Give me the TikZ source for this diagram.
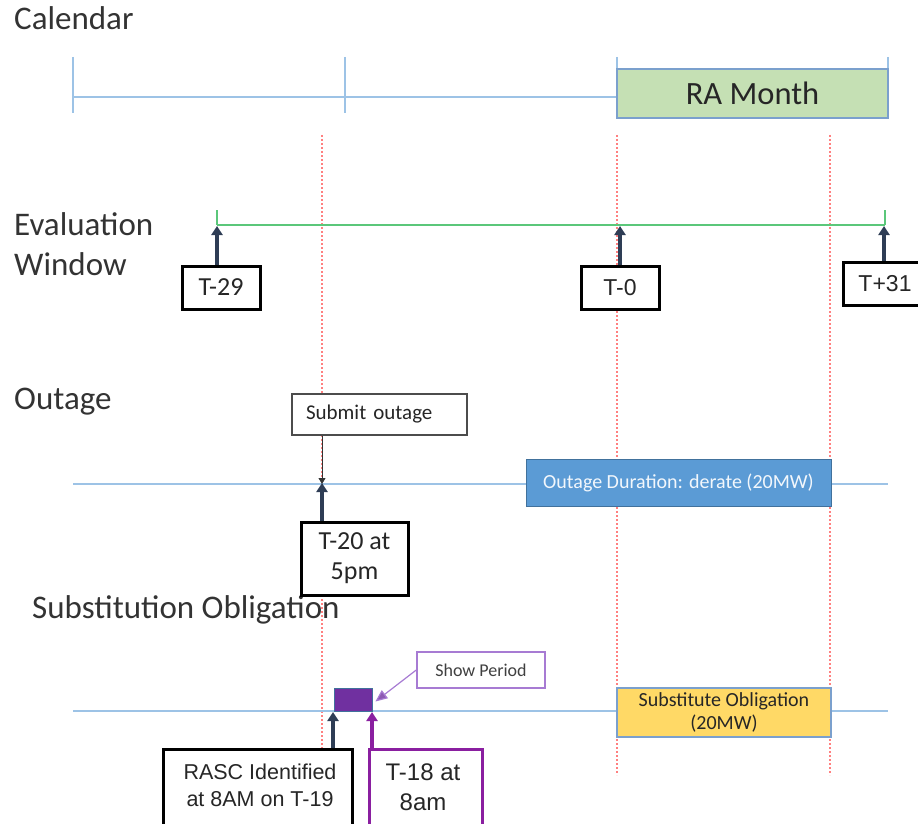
\documentclass[tikz,border=0pt]{standalone}
\usepackage{fontspec}
\setmainfont{Carlito}
\newfontfamily\arialf{Liberation Sans}
\usetikzlibrary{arrows.meta}
\definecolor{calblue}{HTML}{9DC3E6}
\definecolor{boxblue}{HTML}{7BA0CD}
\definecolor{evgreen}{HTML}{5BC77A}
\definecolor{rafill}{HTML}{C5E0B4}
\definecolor{reddot}{HTML}{FF8080}
\definecolor{navy}{HTML}{2E3D55}
\definecolor{outfill}{HTML}{5B9BD5}
\definecolor{outdraw}{HTML}{41719C}
\definecolor{purplefill}{HTML}{7030A0}
\definecolor{lightpurple}{HTML}{A77BD3}
\definecolor{darkpurple}{HTML}{8A1FA0}
\definecolor{subfill}{HTML}{FFD966}
\definecolor{headtext}{HTML}{333333}
\begin{document}
\begin{tikzpicture}[x=1pt,y=-1pt,
  heading/.style={anchor=base west, inner sep=0, text=headtext, font=\fontsize{33}{38}\selectfont},
  calline/.style={draw=calblue, line width=2.5},
  greenline/.style={draw=evgreen, line width=2.5},
  reddotted/.style={draw=reddot, line width=1.3, dash pattern=on 2pt off 2pt},
  navarrow/.style={draw=navy, line width=3.2, -{Triangle[width=11pt,length=9pt]}},
  purparrow/.style={draw=darkpurple, line width=3.2, -{Triangle[width=11pt,length=9pt]}},
  tbox/.style={draw=black, line width=3, fill=white, inner sep=0, text=black!85},
  rabox/.style={draw=boxblue, line width=2, fill=rafill, inner sep=0, font=\fontsize{32.5}{38}\selectfont, text=black!85},
]
\useasboundingbox (0,0) rectangle (918,824);
\clip (0,0) rectangle (918,824);

% headings
\node[heading] (hcal) at (14,30) {Calendar};
\node[heading] (heval) at (14,235) {Evaluation};
\node[heading] (hwin) at (14,275) {Window};
\node[heading] (hout) at (14,409) {Outage};
\node[heading] (hsub) at (32,618) {Substitution Obligation};

% red dotted guides
\draw[reddotted] (322,135) -- (322,748);
\draw[reddotted] (617,135) -- (617,775);
\draw[reddotted] (830,135) -- (830,775);

% calendar
\draw[calline] (73,97) -- (617,97);
\draw[calline] (73,57) -- (73,113);
\draw[calline] (345,57) -- (345,113);
\draw[calline] (617,57) -- (617,118);
\draw[calline] (888,57) -- (888,118);
\node[rabox, minimum width=271, minimum height=49] (ra) at (752.5,93.5) {RA Month};

% evaluation window
\draw[greenline] (217,225) -- (885,225);
\draw[greenline] (217,210) -- (217,225);
\draw[greenline] (885,210) -- (885,225);
\coordinate (e29) at (217,226);
\coordinate (e0) at (620,226);
\coordinate (e31) at (884,226);
\node[tbox, minimum width=78, minimum height=43, font=\fontsize{26}{30}\selectfont] (t29) at (221,287.5) {T-29};
\node[tbox, minimum width=78, minimum height=43, font=\arialf\fontsize{23}{28}\selectfont] (t0) at (620,287.5) {T-0};
\node[tbox, minimum width=84, minimum height=43, font=\arialf\fontsize{23}{28}\selectfont] (t31) at (885,283.5) {T+31};
\draw[navarrow] (t29.north -| e29) -- (e29);
\draw[navarrow] (t0.north -| e0) -- (e0);
\draw[navarrow] (t31.north -| e31) -- (e31);

% outage
\draw[calline] (73,484) -- (888,484);
\coordinate (o20) at (322,484);
\node[draw=black!70, line width=1.5, fill=white, minimum width=175, minimum height=41, inner xsep=14, text width=147, align=left, font=\fontsize{21}{25}\selectfont, text=black!85] (submit) at (379.5,414.5) {Submit outage};
\draw[draw=black!80, line width=0.8, -{Triangle[width=7pt,length=6pt]}] (submit.south -| o20) -- (o20);
\node[tbox, minimum width=107, minimum height=73, align=center, font=\fontsize{26}{30}\selectfont] (t20) at (354.5,558.5) {T-20 at\\5pm};
\draw[navarrow] (t20.north -| o20) -- ([yshift=1]o20);
\node[draw=outdraw, line width=1, fill=outfill, minimum width=305, minimum height=47, inner sep=0, text=white!92!outfill, font=\fontsize{20}{24}\selectfont] (odur) at (678.5,482.5) {Outage Duration: derate (20MW)};

% substitution obligation
\draw[calline] (73,711) -- (888,711);
\node[draw=outdraw, line width=0.8, fill=purplefill, minimum width=38, minimum height=23, inner sep=0] (show) at (353,699.5) {};
\node[draw=lightpurple, line width=1.5, fill=white, minimum width=128, minimum height=36, inner sep=0, text=black!75, font=\fontsize{18}{22}\selectfont] (showlbl) at (481,670) {Show Period};
\draw[draw=lightpurple, line width=1.2, -{Triangle[width=10pt,length=12pt,fill=purplefill!80]}] (showlbl.west) -- ([xshift=3,yshift=-2]show.east);
\coordinate (s19) at (333,712);
\coordinate (s18) at (372,712);
\node[tbox, minimum width=189, minimum height=110, anchor=north] (rasc) at (257.5,748) {};
\node[inner sep=0, align=center, text=black!85, font=\arialf\fontsize{21.5}{27}\selectfont] (rasctxt) at (260,785) {RASC Identified\\at 8AM on T-19};
\node[tbox, draw=darkpurple, minimum width=113, minimum height=110, anchor=north] (t18) at (425.5,748) {};
\node[inner sep=0, align=center, text=black!85, font=\arialf\fontsize{24}{30}\selectfont] (t18txt) at (423,787) {T-18 at\\8am};
\draw[navarrow] (rasc.north -| s19) -- (s19);
\draw[purparrow] (t18.north -| s18) -- (s18);
\node[draw=boxblue, line width=1.5, fill=subfill, minimum width=214, minimum height=49, inner sep=0, align=center, text=black!85, font=\fontsize{20}{23}\selectfont] (subob) at (724,712.5) {Substitute Obligation\\(20MW)};
\end{tikzpicture}
\end{document}
